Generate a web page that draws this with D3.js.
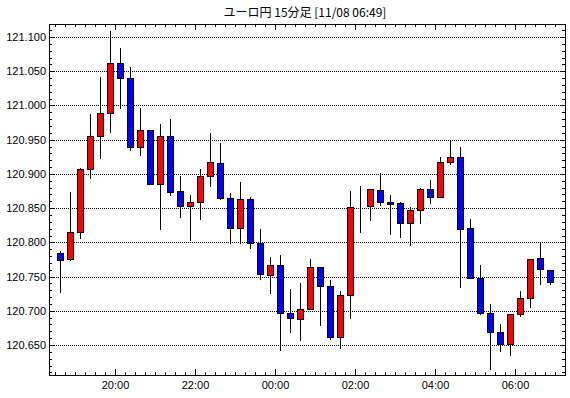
<!DOCTYPE html>
<html>
<head>
<meta charset="utf-8">
<script src="https://cdn.jsdelivr.net/npm/d3@7"></script>
<style>
  body { margin: 0; background: #fff; }
  svg { display: block; }
</style>
</head>
<body>
<svg id="chart" width="570" height="398"></svg>
<script>
// 15-minute EUR/JPY candles, 18:30 -> 06:45
var times = ["18:30","18:45","19:00","19:15","19:30","19:45","20:00","20:15","20:30","20:45",
             "21:00","21:15","21:30","21:45","22:00","22:15","22:30","22:45","23:00","23:15",
             "23:30","23:45","00:00","00:15","00:30","00:45","01:00","01:15","01:30","01:45",
             "02:00","02:15","02:30","02:45","03:00","03:15","03:30","03:45","04:00","04:15",
             "04:30","04:45","05:00","05:15","05:30","05:45","06:00","06:15","06:30","06:45"];
var openV  = [120.785,120.775,120.8145,120.9066,120.956,120.9885,121.0615,121.0396,120.9387,120.9636,
              120.8846,120.956,120.8749,120.8525,120.8583,120.8972,120.9154,120.8642,120.8203,120.8632,
              120.7993,120.7516,120.7662,120.6975,120.6887,120.7019,120.7637,120.7355,120.6624,120.7224,
              120.8525,120.8525,120.8759,120.8583,120.8569,120.8276,120.8466,120.8773,120.8656,120.9168,
              120.9241,120.8203,120.7472,120.6975,120.6683,120.6522,120.696,120.7194,120.7765,120.7589];
var highV  = [120.788,120.874,120.908,120.987,121.0415,121.109,121.084,121.056,120.996,120.9636,
              120.973,120.9797,120.8968,120.869,120.907,120.9596,120.945,120.8724,120.888,120.866,
              120.8193,120.7784,120.7813,120.7316,120.7408,120.7754,120.7637,120.7447,120.7287,120.8749,
              120.8822,120.8773,120.9012,120.869,120.8588,120.851,120.8788,120.8909,120.9246,120.9494,
              120.9396,120.8335,120.7667,120.7096,120.6804,120.696,120.7282,120.775,120.7984,120.7589];
var lowV   = [120.728,120.7735,120.807,120.894,120.9235,120.9615,120.997,120.935,120.928,120.8846,
              120.820,120.869,120.8373,120.804,120.8335,120.883,120.8627,120.7984,120.7984,120.792,
              120.7466,120.7253,120.6434,120.6683,120.658,120.7019,120.6794,120.659,120.6463,120.6896,
              120.8154,120.8329,120.8548,120.8124,120.808,120.7955,120.8285,120.8569,120.8656,120.9148,
              120.7341,120.7472,120.6946,120.615,120.6414,120.6361,120.6931,120.7057,120.7393,120.7393];
var closeV = [120.774,120.8145,120.9066,120.956,120.9885,121.0615,121.0396,120.9387,120.9636,120.8846,
              120.956,120.874,120.8525,120.8583,120.8963,120.9168,120.8642,120.8203,120.8632,120.7993,
              120.7531,120.7662,120.6975,120.6902,120.7019,120.7637,120.736,120.6624,120.7224,120.851,
              120.8525,120.8773,120.8583,120.8554,120.8276,120.8466,120.8773,120.8656,120.9168,120.9241,
              120.8189,120.7472,120.6975,120.6683,120.6522,120.696,120.718,120.775,120.7604,120.7414];

var yTickLabels = ["120.650","120.700","120.750","120.800","120.850","120.900","120.950","121.000","121.050","121.100"];
var xTickLabels = ["20:00","22:00","00:00","02:00","04:00","06:00"];
var title = "ユーロ円 15分足 [11/08 06:49]";

// minutes counted from 18:00
function toMin(s) {
  var h = +s.slice(0, 2), m = +s.slice(3, 5);
  return (h >= 18 ? h - 18 : h + 6) * 60 + m;
}

var candles = times.map(function(t, i) {
  return { t: toMin(t) + 7.5, o: openV[i], h: highV[i], l: lowV[i], c: closeV[i] };
});

var svg = d3.select("#chart");
var plotLeft = 49, plotRight = 565, plotTop = 24, plotBottom = 375;

var x = d3.scaleLinear().domain([21, 795]).rangeRound([plotLeft, plotRight]);
var y = d3.scaleLinear().domain([120.6062, 121.119]).rangeRound([plotBottom, plotTop]);

// title
svg.append("text")
  .attr("x", 305)
  .attr("y", 17)
  .attr("text-anchor", "middle")
  .style("font-family", "'Noto Sans CJK JP', sans-serif")
  .style("font-size", "12px")
  .style("fill", "#000")
  .text(title);

// dotted gridlines
svg.append("g")
  .selectAll("line")
  .data(yTickLabels)
  .join("line")
  .attr("x1", plotLeft + 1)
  .attr("x2", plotRight)
  .attr("y1", function(d) { return y(+d) + 0.5; })
  .attr("y2", function(d) { return y(+d) + 0.5; })
  .style("stroke", "#000")
  .style("stroke-dasharray", "1,1");

// tick positions
var minorX = d3.range(30, 795, 15);
var majorX = xTickLabels.map(toMin);
var minorY = d3.range(120.61, 121.115, 0.01);

function styleAxis(g) {
  g.select(".domain").remove();
  g.selectAll("line").style("stroke", "#000");
  g.selectAll("text")
    .style("font-family", "'Liberation Sans', Arial, sans-serif")
    .style("font-size", "11px")
    .style("fill", "#000");
}

// bottom
svg.append("g").attr("transform", `translate(0,${plotBottom})`)
  .call(d3.axisBottom(x).tickValues(minorX).tickSizeInner(-3).tickSizeOuter(0).tickFormat(""))
  .call(styleAxis);
svg.append("g").attr("transform", `translate(0,${plotBottom})`)
  .call(d3.axisBottom(x).tickValues(majorX).tickSizeInner(-6).tickSizeOuter(0).tickPadding(6)
    .tickFormat(function(d, i) { return xTickLabels[i]; }))
  .call(styleAxis);

// top
svg.append("g").attr("transform", `translate(0,${plotTop})`)
  .call(d3.axisTop(x).tickValues(minorX).tickSizeInner(-3).tickSizeOuter(0).tickFormat(""))
  .call(styleAxis);
svg.append("g").attr("transform", `translate(0,${plotTop})`)
  .call(d3.axisTop(x).tickValues(majorX).tickSizeInner(-6).tickSizeOuter(0).tickFormat(""))
  .call(styleAxis);

// left
svg.append("g").attr("transform", `translate(${plotLeft},0)`)
  .call(d3.axisLeft(y).tickValues(minorY).tickSizeInner(-3).tickSizeOuter(0).tickFormat(""))
  .call(styleAxis);
svg.append("g").attr("transform", `translate(${plotLeft},0)`)
  .call(d3.axisLeft(y).tickValues(yTickLabels.map(Number)).tickSizeInner(-5).tickSizeOuter(0).tickPadding(3)
    .tickFormat(function(d, i) { return yTickLabels[i]; }))
  .call(styleAxis);

// right
svg.append("g").attr("transform", `translate(${plotRight},0)`)
  .call(d3.axisRight(y).tickValues(minorY).tickSizeInner(-3).tickSizeOuter(0).tickFormat(""))
  .call(styleAxis);
svg.append("g").attr("transform", `translate(${plotRight},0)`)
  .call(d3.axisRight(y).tickValues(yTickLabels.map(Number)).tickSizeInner(-5).tickSizeOuter(0).tickFormat(""))
  .call(styleAxis);

// frame
svg.append("rect")
  .attr("x", plotLeft + 0.5)
  .attr("y", plotTop + 0.5)
  .attr("width", plotRight - plotLeft)
  .attr("height", plotBottom - plotTop)
  .style("fill", "none")
  .style("stroke", "#000");

// candles
var cg = svg.append("g").attr("class", "candles");

cg.selectAll("line.wick")
  .data(candles)
  .join("line")
  .attr("class", "wick")
  .attr("x1", function(d) { return x(d.t) + 0.5; })
  .attr("x2", function(d) { return x(d.t) + 0.5; })
  .attr("y1", function(d) { return y(d.h); })
  .attr("y2", function(d) { return y(d.l) + 1; })
  .style("stroke", "#000");

cg.selectAll("rect.body")
  .data(candles)
  .join("rect")
  .attr("class", "body")
  .attr("x", function(d) { return x(d.t) - 2.5; })
  .attr("y", function(d) { return y(Math.max(d.o, d.c)) + 0.5; })
  .attr("width", 6)
  .attr("height", function(d) { return y(Math.min(d.o, d.c)) - y(Math.max(d.o, d.c)); })
  .style("fill", function(d) { return d.c >= d.o ? "#ff0000" : "#0000ff"; })
  .style("stroke", "#000");
</script>
</body>
</html>
